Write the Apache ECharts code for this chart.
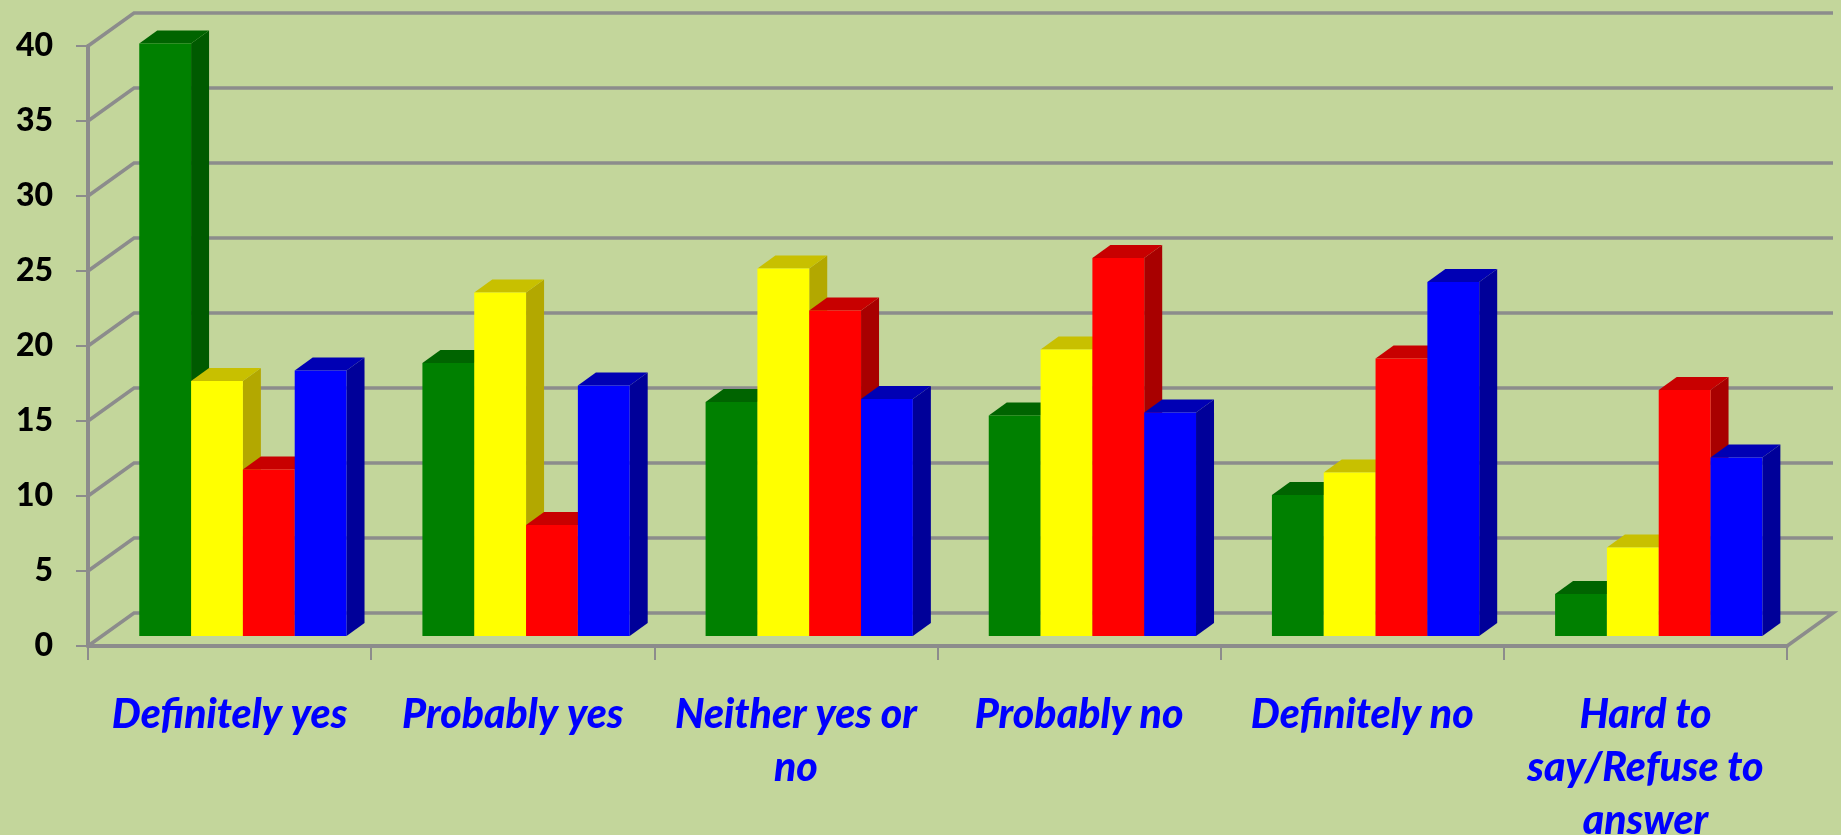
<!DOCTYPE html>
<html><head><meta charset="utf-8">
<style>html,body{margin:0;padding:0;background:#c3d69b}#c{width:1841px;height:835px}</style>
<script src="https://cdn.jsdelivr.net/npm/echarts@6/dist/echarts.min.js"></script>
</head><body><div id="c"></div>
<script>
const categories = ["Definitely yes","Probably yes","Neither yes or\nno","Probably no","Definitely no","Hard to\nsay/Refuse to\nanswer"];
const yTicks = [0,5,10,15,20,25,30,35,40];
const greenValues  = [39.5,18.2,15.6,14.7,9.4,2.8];
const yellowValues = [17.0,22.9,24.5,19.1,10.9,5.9];
const redValues    = [11.1,7.4,21.7,25.2,18.5,16.4];
const blueValues   = [17.7,16.7,15.8,14.9,23.6,11.9];

const GRID_C = '#8c8c8c';
const WALL_DX = 46, WALL_DY = 33, BAR_LIFT = 10, BAR_DX = 18, BAR_DY = 13, BAR_START = 0.181, BAR_W = 0.183;
const palette = [
  {front:'#008000', side:'#005a00', top:'#006400'},
  {front:'#ffff00', side:'#b3a800', top:'#c8c000'},
  {front:'#ff0000', side:'#a80000', top:'#c80000'},
  {front:'#0000ff', side:'#000099', top:'#0000b4'}
];

function wallItem(params, api){
  const cs = params.coordSys;
  const y = api.coord([0, api.value(1)])[1];
  const l = cs.x, r = cs.x + cs.width;
  const pts = [[l,y],[l+WALL_DX,y-WALL_DY],[r+WALL_DX,y-WALL_DY]];
  if (api.value(1) === 0) pts.push([r,y]);
  return {type:'polyline', shape:{points:pts}, style:{stroke:GRID_C, lineWidth:3.5, fill:null}, silent:true};
}
function barItem(slot){
  return function(params, api){
    const c0 = api.coord([api.value(0), 0]);
    const c1 = api.coord([api.value(0), api.value(1)]);
    const band = api.size([1,0])[0];
    const x0 = c0[0] - band/2 + band*BAR_START + band*BAR_W*slot;
    const w = band*BAR_W;
    const yb = c0[1] - BAR_LIFT, yt = c1[1] - BAR_LIFT;
    const p = palette[slot];
    return {type:'group', silent:true, children:[
      {type:'polygon', shape:{points:[[x0+w,yt],[x0+w+BAR_DX,yt-BAR_DY],[x0+w+BAR_DX,yb-BAR_DY],[x0+w,yb]]}, style:{fill:p.side}},
      {type:'polygon', shape:{points:[[x0,yt],[x0+BAR_DX,yt-BAR_DY],[x0+w+BAR_DX,yt-BAR_DY],[x0+w,yt]]}, style:{fill:p.top}},
      {type:'rect', shape:{x:x0,y:yt,width:w,height:yb-yt}, style:{fill:p.front}}
    ]};
  };
}
const allValues = [greenValues,yellowValues,redValues,blueValues];
const chart = echarts.init(document.getElementById('c'), null, {renderer:'canvas'});
chart.setOption({
  animation:false,
  backgroundColor:'#c3d69b',
  grid:{left:88, right:54, top:46, bottom:189, outerBoundsMode:'none', containLabel:false},
  xAxis:{type:'category', data:categories,
    axisLine:{show:true,lineStyle:{color:GRID_C,width:4}},
    axisTick:{show:true,length:14,alignWithLabel:false,lineStyle:{color:GRID_C,width:2}},
    axisLabel:{interval:0,color:'#0000ff',fontFamily:'Lato',fontWeight:900,fontStyle:'italic',fontSize:41,lineHeight:53,margin:42,hideOverlap:false},
    splitLine:{show:false}},
  yAxis:{type:'value',min:0,max:40,interval:5,
    axisLine:{show:true,lineStyle:{color:GRID_C,width:4}},
    axisTick:{show:true,length:12,lineStyle:{color:GRID_C,width:2}},
    axisLabel:{color:'#000',fontFamily:'Lato',fontWeight:900,fontSize:32,margin:35},
    splitLine:{show:false}},
  series:[
    {type:'custom',name:'Walls',renderItem:wallItem,data:yTicks.map(t=>[0,t]),encode:{x:0,y:1},z:1,silent:true},
    ...allValues.map((vals,i)=>({type:'custom',name:'Series '+(i+1),renderItem:barItem(i),
      data:vals.map((v,j)=>[j,v]),encode:{x:0,y:1},z:2+i,silent:true}))
  ]
});
</script></body></html>
